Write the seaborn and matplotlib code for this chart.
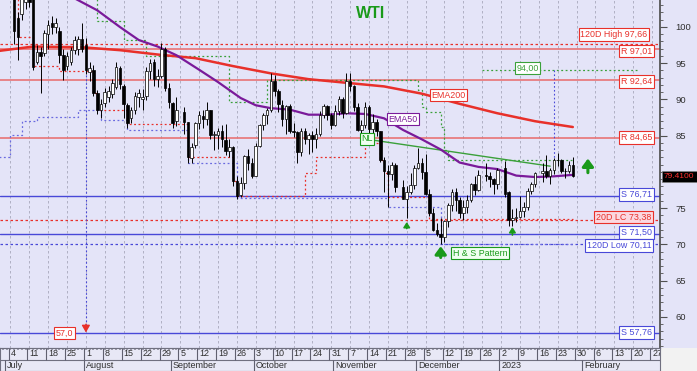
import numpy as np
import pandas as pd
import seaborn as sns
import matplotlib.pyplot as plt

sns.set_theme(style="white")
plt.rcParams['font.family'] = ['Liberation Sans', 'DejaVu Sans']

# ---- daily candles (WTI) ----
dates = ['2022-07-05','2022-07-06','2022-07-07','2022-07-08','2022-07-11','2022-07-12','2022-07-13','2022-07-14','2022-07-15',
         '2022-07-18','2022-07-19','2022-07-20','2022-07-21','2022-07-22','2022-07-25','2022-07-26','2022-07-27','2022-07-28','2022-07-29',
         '2022-08-01','2022-08-02','2022-08-03','2022-08-04','2022-08-05','2022-08-08','2022-08-09','2022-08-10','2022-08-11','2022-08-12',
         '2022-08-15','2022-08-16','2022-08-17','2022-08-18','2022-08-19','2022-08-22','2022-08-23','2022-08-24','2022-08-25','2022-08-26',
         '2022-08-29','2022-08-30','2022-08-31','2022-09-01','2022-09-02','2022-09-06','2022-09-07','2022-09-08','2022-09-09',
         '2022-09-12','2022-09-13','2022-09-14','2022-09-15','2022-09-16','2022-09-19','2022-09-20','2022-09-21','2022-09-22','2022-09-23',
         '2022-09-26','2022-09-27','2022-09-28','2022-09-29','2022-09-30','2022-10-03','2022-10-04','2022-10-05','2022-10-06','2022-10-07',
         '2022-10-10','2022-10-11','2022-10-12','2022-10-13','2022-10-14','2022-10-17','2022-10-18','2022-10-19','2022-10-20','2022-10-21',
         '2022-10-24','2022-10-25','2022-10-26','2022-10-27','2022-10-28','2022-10-31','2022-11-01','2022-11-02','2022-11-03','2022-11-04',
         '2022-11-07','2022-11-08','2022-11-09','2022-11-10','2022-11-11','2022-11-14','2022-11-15','2022-11-16','2022-11-17','2022-11-18',
         '2022-11-21','2022-11-22','2022-11-23','2022-11-25','2022-11-28','2022-11-29','2022-11-30','2022-12-01','2022-12-02',
         '2022-12-05','2022-12-06','2022-12-07','2022-12-08','2022-12-09','2022-12-12','2022-12-13','2022-12-14','2022-12-15','2022-12-16',
         '2022-12-19','2022-12-20','2022-12-21','2022-12-22','2022-12-23','2022-12-27','2022-12-28','2022-12-29','2022-12-30',
         '2023-01-03','2023-01-04','2023-01-05','2023-01-06','2023-01-09','2023-01-10','2023-01-11','2023-01-12','2023-01-13',
         '2023-01-17','2023-01-18','2023-01-19','2023-01-20','2023-01-23','2023-01-24','2023-01-25','2023-01-26','2023-01-27']
opens = [104.5,101.2,101.8,103.5,104.8,103.8,95.2,96.5,96.4, 99.0,100.6,100.0,99.5,96.2,94.6,95.2,96.8,97.0,98.3,
         97.5,93.8,94.1,90.9,88.6,89.5,90.3,90.8,91.7,94.4, 91.9,89.3,87.5,88.6,90.4,90.1,90.5,93.9,95.2,92.8,
         93.2,96.9,91.6,89.5,87.0,88.3,86.9,81.9,83.7, 86.8,87.7,87.3,88.5,85.1,85.1,85.7,84.4,82.9,83.5,
         78.7,76.8,78.5,82.2,81.2,79.5,83.6,86.5,87.8,88.5, 92.6,91.1,89.3,87.3,89.1,85.6,85.5,82.8,85.6,84.5,
         85.1,84.6,85.3,87.9,89.1,87.9,86.5,88.4,90.0,88.2, 92.6,91.8,88.9,85.8,86.5,89.0,85.9,86.9,85.6,81.6,
         80.1,79.7,81.0,77.9,76.3,77.2,78.2,80.6,81.2, 80.0,76.9,74.3,72.0,71.5,71.0,73.2,75.4,77.3,76.1,
         74.3,75.2,76.2,78.3,77.5,79.6,79.5,79.0,78.4, 80.6,77.3,73.4,73.7,73.8,74.6,75.1,77.4,78.4,
         79.9,80.2,79.5,80.3,81.6,81.6,80.1,80.2,81.0]
highs = [105.5,102.0,105.0,106.0,106.0,104.5,97.5,97.3,99.6, 101.0,101.5,101.2,100.0,97.0,96.5,97.2,98.8,98.8,100.5,
         98.5,95.2,94.8,91.3,90.0,91.6,91.8,92.8,95.2,94.6, 92.1,89.5,89.0,91.0,91.4,91.5,94.5,95.6,95.6,94.2,
         97.8,97.3,92.3,89.7,90.3,89.0,86.9,84.0,86.9, 88.4,88.6,89.6,88.6,85.7,86.0,86.5,86.6,84.6,83.6,
         79.5,79.3,82.4,83.2,81.9,84.0,86.6,88.2,88.8,93.6, 93.4,91.5,89.9,89.3,89.4,86.7,85.6,86.0,86.1,85.4,
         85.6,86.0,88.4,89.4,89.2,88.1,89.3,90.5,90.3,93.7, 93.7,92.0,89.5,87.2,89.6,89.2,88.0,87.3,85.7,82.0,
         81.0,81.4,81.2,78.9,78.0,79.9,81.0,83.3,81.9, 82.5,77.7,75.0,73.0,73.7,73.4,75.7,77.7,77.8,76.6,
         76.1,76.8,78.5,79.4,80.3,81.2,80.0,79.1,80.5, 81.5,77.4,74.9,75.0,76.7,75.9,77.8,78.6,80.0,
         81.2,82.4,80.6,81.9,82.6,81.8,80.6,81.5,82.0]
lows = [97.7,95.4,101.0,102.5,102.8,94.0,94.9,90.9,96.0, 97.0,99.0,99.2,95.0,92.7,94.0,94.7,96.3,96.2,96.5,
        93.5,92.5,90.5,88.0,87.4,89.0,89.6,90.2,91.5,91.5, 87.5,86.0,86.8,88.0,88.9,88.5,89.9,92.8,91.9,91.7,
        93.0,91.1,88.8,86.1,86.4,85.3,81.2,81.3,83.3, 85.9,86.1,86.5,84.6,83.0,83.1,83.4,82.3,82.1,78.1,
        76.3,76.5,77.6,80.3,79.1,79.5,83.4,85.8,86.6,88.3, 90.5,88.3,86.4,85.2,85.4,84.8,81.3,82.2,83.9,82.5,
        82.7,83.3,85.0,87.5,87.1,85.9,86.3,87.8,87.4,88.0, 91.1,88.4,85.6,84.3,86.0,84.8,84.9,84.9,81.4,77.2,
        75.1,78.9,77.2,76.3,73.6,77.0,77.6,80.4,79.0, 76.8,73.9,71.8,71.1,70.1,70.3,72.4,74.6,74.6,73.7,
        73.4,74.4,75.9,76.8,77.4,78.8,77.9,77.0,77.7, 76.5,72.6,72.6,73.1,73.6,73.8,74.8,76.9,77.9,
        78.6,79.1,78.3,79.7,80.8,79.8,79.1,79.9,79.3]
closes = [99.4,98.6,104.0,104.5,103.5,94.5,96.6,96.0,99.2, 100.3,100.0,100.5,96.2,94.0,96.0,96.8,98.2,98.3,97.0,
          94.1,94.4,90.9,88.5,89.4,91.0,91.2,92.3,94.5,92.1, 89.4,86.7,88.6,90.5,90.9,90.4,93.9,95.0,92.8,93.3,
          97.0,91.6,89.6,86.7,88.5,86.9,82.0,83.5,86.8, 87.8,87.3,88.5,85.1,85.1,85.7,84.5,82.9,83.5,78.7,
          76.7,78.5,82.2,81.2,79.5,83.6,86.5,87.8,88.5,92.6, 91.1,89.4,87.3,89.1,85.6,85.5,82.8,85.6,84.5,85.1,
          84.6,85.3,87.9,89.1,87.9,86.5,88.4,90.0,88.2,92.6, 91.8,88.9,85.8,86.5,89.0,85.9,86.9,85.6,81.6,80.1,
          79.7,81.0,77.9,76.3,77.2,78.2,80.6,81.2,80.0, 76.9,74.3,72.0,71.5,71.0,73.2,75.4,77.3,76.1,74.3,
          75.2,76.2,78.3,77.5,79.6,79.5,79.0,78.4,80.3, 76.9,73.4,73.7,73.8,74.6,75.1,77.4,78.4,79.9,
          80.2,79.5,80.3,81.6,81.6,80.1,80.2,81.0,79.4]

# ---- moving averages ----
ema200_dates = ['2022-06-29','2022-07-12','2022-07-29','2022-08-12','2022-08-26','2022-09-09','2022-09-23','2022-10-07',
                '2022-10-21','2022-11-04','2022-11-18','2022-12-02','2022-12-16','2022-12-30','2023-01-13','2023-01-27']
ema200_vals = [96.7,97.3,97.2,96.8,96.2,95.7,94.6,93.6,92.8,92.3,91.8,90.8,89.4,88.1,87.0,86.2]
ema50_dates = ['2022-07-25','2022-08-04','2022-08-12','2022-08-19','2022-08-26','2022-09-02','2022-09-12','2022-09-19',
               '2022-09-27','2022-10-03','2022-10-07','2022-10-14','2022-10-21','2022-10-28','2022-11-04','2022-11-11',
               '2022-11-18','2022-11-25','2022-12-02','2022-12-09','2022-12-16','2022-12-23','2022-12-30','2023-01-06',
               '2023-01-13','2023-01-20','2023-01-27']
ema50_vals = [104.5,102.3,100.0,98.2,97.3,96.1,94.1,92.4,90.2,89.2,88.8,88.6,87.9,87.9,88.1,88.0,
              87.4,85.8,84.5,83.1,81.3,80.7,80.4,79.5,79.3,79.4,79.6]

# channel steps: 20D lowest close (red), 20D highest close (green), 120D low (blue)
lc_dates = ['2022-06-29','2022-07-06','2022-07-12','2022-07-21','2022-08-03','2022-08-04','2022-08-16','2022-09-07',
            '2022-09-23','2022-09-26','2022-10-20','2022-10-25','2022-11-11','2022-11-17','2022-11-18','2022-11-21',
            '2022-12-06','2023-01-27']
lc_vals = [104.5,98.6,94.6,93.9,90.9,88.6,86.6,82.0,78.8,76.7,79.9,82.1,84.0,81.6,79.9,76.6,73.5,73.5]
hc_dates = ['2022-08-03','2022-08-04','2022-08-15','2022-08-23','2022-09-22','2022-10-06','2022-12-01','2022-12-02',
            '2022-12-05','2022-12-09','2022-12-12','2022-12-13','2023-01-27']
hc_vals = [105.0,100.8,98.2,96.0,89.6,92.7,91.3,89.0,88.3,86.2,83.0,81.6,81.6]
low120_dates = ['2022-06-29','2022-07-04','2022-07-07','2022-07-13','2022-07-28','2022-08-05','2022-08-16','2022-09-07',
                '2022-09-26','2022-11-21','2022-12-09','2023-01-27']
low120_vals = [82.1,85.1,87.0,87.6,88.5,87.2,85.8,81.2,76.45,75.2,70.1,70.1]

resist = [97.01, 92.64, 84.65]
support = [76.71, 71.50, 57.76]
high120, low120, lc20 = 97.66, 70.11, 73.38
target, proj = 94.00, 57.0
last_price = 79.41

month_names = ['July', 'August', 'September', 'October', 'November', 'December', '2023', 'February']
month_starts = ['2022-07-01', '2022-08-01', '2022-09-01', '2022-10-03', '2022-11-01', '2022-12-01', '2023-01-02', '2023-02-01']
weeks = pd.date_range('2022-07-04', '2023-02-27', freq='7D')


def pos(d):
    return np.busday_count(np.datetime64('2022-07-04'), np.array(d, dtype='datetime64[D]'))


df = pd.DataFrame({'x': pos(dates), 'o': opens, 'h': highs, 'l': lows, 'c': closes})

BG = '#e4e4f8'
RED = '#e8302a'
LRED = '#e86a6a'
BLUE = '#4848d8'
GREEN = '#1a9a1a'
LGREEN = '#3aa03a'
PURP = '#7a1a9a'

fig = plt.figure(figsize=(6.97, 3.71), dpi=100)
fig.patch.set_facecolor(BG)
ax = fig.add_axes([0, 23 / 371, 660 / 697, 348 / 371])
ax.set_facecolor(BG)
X0, X1 = -2.76, 172.1
ax.set_xlim(X0, X1)
ax.set_ylim(55.72, 103.72)

# weekly grid
wx = pos(weeks.strftime('%Y-%m-%d'))
ax.vlines(wx, 55.72, 103.72, colors='#a8a8bc', linestyles=(0, (3, 3)), lw=0.6, zorder=0)

# level lines
for v in resist:
    ax.axhline(v, color=LRED, lw=1.1, zorder=1)
for v in support:
    ax.axhline(v, color=BLUE, lw=1.0, zorder=1)
ax.axhline(high120, color=RED, lw=0.9, ls=(0, (2, 2)), zorder=1)
ax.axhline(lc20, color=RED, lw=0.9, ls=(0, (2, 2)), zorder=1)
ax.axhline(low120, color=BLUE, lw=0.9, ls=(0, (2, 2)), zorder=1)

# step channel lines
ax.step(pos(lc_dates), lc_vals, where='post', color=RED, lw=0.9, ls=(0, (1.5, 2)), zorder=1)
ax.step(pos(hc_dates), hc_vals, where='post', color=LGREEN, lw=0.9, ls=(0, (1.5, 2)), zorder=1)
ax.step(pos(low120_dates), low120_vals, where='post', color='#6a6ae0', lw=0.9, ls=(0, (1.5, 2)), zorder=1)

# projections
tx = pos('2023-01-20')
ax.plot([pos('2022-12-26'), pos('2023-02-21')], [target, target], color=LGREEN, lw=0.9, ls=(0, (1.5, 2)), zorder=1)
ax.plot([tx, tx], [target, 81.9], color=BLUE, lw=0.8, ls=(0, (1.5, 2)), zorder=1)
px_ = pos('2022-08-01')
ax.plot([px_, px_], [93.9, 58.6], color=BLUE, lw=0.8, ls=(0, (1.5, 2)), zorder=1)


def arrow(d, y0, y1, col, w, hw, hl):
    ax.annotate('', xy=(pos(d), y1), xytext=(pos(d), y0),
                arrowprops=dict(arrowstyle='-|>,head_width=%s,head_length=%s' % (hw, hl),
                                color=col, lw=w, shrinkA=0, shrinkB=0), zorder=5)


arrow('2022-08-01', 59.0, 57.85, RED, 1.0, 0.2, 0.35)

# neckline
ax.plot(pos(['2022-11-15', '2023-01-19']), [84.4, 80.8], color=LGREEN, lw=1.0, zorder=2)

# moving averages
sns.lineplot(x=pos(ema200_dates), y=ema200_vals, ax=ax, color=RED, lw=1.8, zorder=3)
sns.lineplot(x=pos(ema50_dates), y=ema50_vals, ax=ax, color=PURP, lw=1.6, zorder=3)

# candles
up = df['c'] >= df['o']
ax.vlines(df['x'], df['l'], df['h'], color='black', lw=0.7, zorder=4)
ax.bar(df['x'], (df['c'] - df['o']).abs().clip(lower=0.08), bottom=np.minimum(df['o'], df['c']),
       width=0.68, color=np.where(up, 'white', 'black'), edgecolor='black', lw=0.5, zorder=4)

# buy arrows
arrow('2022-11-28', 72.2, 73.1, GREEN, 1.2, 0.16, 0.25)
arrow('2023-01-05', 71.3, 72.4, GREEN, 1.2, 0.16, 0.25)
arrow('2022-12-09', 68.2, 69.75, GREEN, 2.2, 0.28, 0.38)
arrow('2023-02-02', 79.9, 81.85, GREEN, 2.2, 0.28, 0.38)

# labels
fs = 6.4
def tag(x, y, s, col, fc='white', ha='right'):
    ax.text(x, y, s, color=col, fontsize=fs, ha=ha, va='center', zorder=6,
            bbox=dict(boxstyle='square,pad=0.18', fc=fc, ec=col, lw=0.8))

XR = 170.0
tag(XR - 1.2, 98.95, '120D High 97,66', RED)
tag(XR, 96.68, 'R 97,01', RED)
tag(XR, 92.48, 'R 92,64', RED)
tag(XR, 84.75, 'R 84,65', RED)
tag(XR, 76.88, 'S 76,71', BLUE)
tag(XR - 0.2, 73.8, '20D LC 73,38', RED, fc='#fbd8e0')
tag(XR, 71.65, 'S 71,50', BLUE)
tag(XR - 0.2, 69.86, '120D Low 70,11', BLUE)
tag(XR, 57.86, 'S 57,76', BLUE)
tag(pos('2022-07-22') + 2.6, 57.8, '57,0', RED, fc='white')
tag(pos('2023-01-11'), 94.35, '94,00', LGREEN, ha='center')
tag(pos('2022-12-13'), 90.6, 'EMA200', RED, ha='center')
tag(pos('2022-11-25'), 87.3, 'EMA50', PURP, ha='center')
tag(pos('2022-11-11') + 0.5, 84.55, 'NL', GREEN, fc='#f0fff0', ha='center')
tag(pos('2022-12-26') - 0.6, 68.82, 'H & S Pattern', GREEN, fc='#f0fff0', ha='center')
ax.text(pos('2022-11-15') - 0.5, 101.8, 'WTI', color=GREEN, fontsize=11.5, fontweight='bold', ha='center', va='center')

# price axis
ax.yaxis.tick_right()
ax.set_yticks([60, 65, 70, 75, 85, 90, 95, 100])
ax.set_yticks(np.arange(56, 104, 1), minor=True)
ax.tick_params(axis='y', which='major', length=5, width=0.8, color='#505050', labelsize=6.8, pad=6, labelcolor='#303030')
ax.tick_params(axis='y', which='minor', length=2.5, width=0.6, color='#505050', right=True)
ax.set_xticks([])
for s in ['top', 'left']:
    ax.spines[s].set_visible(False)
ax.spines['right'].set_color('#505050')
ax.spines['bottom'].set_color('#808090')
ax.spines['bottom'].set_linewidth(0.8)
ax.annotate('79.4100', xy=(1.006, last_price), xycoords=('axes fraction', 'data'), color='#ff3030',
            fontsize=6, ha='left', va='center', zorder=7,
            bbox=dict(boxstyle='square,pad=0.25', fc='black', ec='#808080', lw=0.5), annotation_clip=False)

# date axis
ax2 = fig.add_axes([0, 0, 660 / 697, 23 / 371])
ax2.set_facecolor('#e8e8f6')
ax2.set_xlim(X0, X1)
ax2.set_ylim(0, 23)
ax2.axhline(11.5, color='#707080', lw=0.8)
ax2.vlines(wx - 0.5, 11.5, 23, color='#606070', lw=0.8)
for x, d in zip(wx, weeks):
    ax2.text(x, 17, str(d.day), fontsize=6.5, color='#303030', ha='left', va='center', clip_on=True)
mx = pos(month_starts)
ax2.vlines(mx - 0.5, 0, 11.5, color='#606070', lw=0.8)
for x, m in zip(mx, month_names):
    ax2.text(max(x, X0 + 0.2), 5.5, m, fontsize=6.5, color='#303030', ha='left', va='center', clip_on=True)
ax2.set_xticks(np.arange(-2, 172, 1))
ax2.tick_params(axis='x', direction='in', length=1.5, color='#9090a0', top=True, bottom=False, labelbottom=False)
ax2.set_yticks([])
for s in ax2.spines.values():
    s.set_color('#707080')
    s.set_linewidth(0.8)

fig.patches.append(plt.Rectangle((660 / 697, 0), 37 / 697, 23 / 371, transform=fig.transFigure,
                                 fc='#f2f2f2', ec='none', zorder=-1))

fig.savefig('out.png', dpi=100, facecolor=fig.get_facecolor())
